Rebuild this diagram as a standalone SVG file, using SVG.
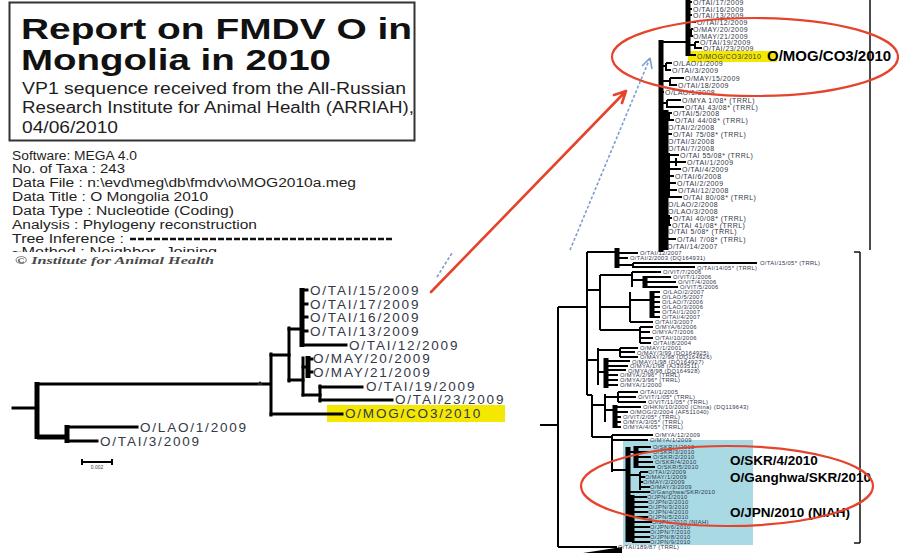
<svg xmlns="http://www.w3.org/2000/svg" width="899" height="553" viewBox="0 0 899 553">
<defs>
<style>
text{font-family:"Liberation Sans",Arial,sans-serif}
.title{font-size:29px;font-weight:bold;fill:#111}
.sub{font-size:16px;fill:#1e1e22}
.info{font-size:12.5px;fill:#1e1e22}
.iah{font-family:"Liberation Serif","Times New Roman",serif;font-style:italic;font-weight:bold;font-size:10.5px;fill:#4a4a4a}
.br{fill:none;stroke:#000;stroke-width:3;stroke-linecap:square}
.thick{fill:none;stroke:#000;stroke-width:5}
.thin{fill:none;stroke:#000;stroke-width:2}
.lbl{font-size:13.5px;letter-spacing:1.8px;fill:#343848}
.ul{font-size:7px;letter-spacing:0.45px;fill:#343848}
.ll{font-size:5.8px;letter-spacing:0.35px;fill:#30344c}
.big{font-weight:bold;fill:#000}
.ell{fill:none;stroke:#e5432b;stroke-width:2.2}
.red{fill:none;stroke:#e5432b;stroke-width:2.6;stroke-linecap:round}
.blue{fill:none;stroke:#7d9fcc;stroke-width:1.6;stroke-dasharray:3 2}
</style>
<clipPath id="cut"><rect x="0" y="243" width="420" height="9"/></clipPath>
</defs>
<rect width="899" height="553" fill="#fff"/>

<g id="title-box">
<rect x="9.5" y="2.5" width="405" height="138" fill="#fff" stroke="#333" stroke-width="2"/>
<text class="title" x="21" y="39" textLength="391" lengthAdjust="spacingAndGlyphs">Report on FMDV O in</text>
<text class="title" x="21" y="70" textLength="310" lengthAdjust="spacingAndGlyphs">Mongolia in 2010</text>
<text class="sub" x="22" y="94" textLength="384" lengthAdjust="spacingAndGlyphs">VP1 sequence received from the All-Russian</text>
<text class="sub" x="22" y="113" textLength="392" lengthAdjust="spacingAndGlyphs">Research Institute for Animal Health (ARRIAH),</text>
<text class="sub" x="22" y="133" textLength="96" lengthAdjust="spacingAndGlyphs">04/06/2010</text>
</g>

<g id="analysis-info">
<text class="info" x="12" y="160" textLength="125" lengthAdjust="spacingAndGlyphs">Software: MEGA 4.0</text>
<text class="info" x="12" y="173" textLength="113" lengthAdjust="spacingAndGlyphs">No. of Taxa : 243</text>
<text class="info" x="12" y="187" textLength="344" lengthAdjust="spacingAndGlyphs">Data File : n:\evd\meg\db\fmdv\o\MOG2010a.meg</text>
<text class="info" x="12" y="201" textLength="196" lengthAdjust="spacingAndGlyphs">Data Title : O Mongolia 2010</text>
<text class="info" x="12" y="215" textLength="222" lengthAdjust="spacingAndGlyphs">Data Type : Nucleotide (Coding)</text>
<text class="info" x="12" y="229" textLength="245" lengthAdjust="spacingAndGlyphs">Analysis : Phylogeny reconstruction</text>
<text class="info" x="12" y="243" textLength="112" lengthAdjust="spacingAndGlyphs">Tree Inference :</text>
<line x1="130" y1="239" x2="393" y2="239" stroke="#111" stroke-width="2.5" stroke-dasharray="6 2"/>
<g clip-path="url(#cut)"><text class="info" x="12" y="256" textLength="205" lengthAdjust="spacingAndGlyphs">~Method : Neighbor- Joining</text></g>
<text class="iah" x="15" y="264" textLength="199" lengthAdjust="spacingAndGlyphs">© Institute for Animal Health</text>
</g>

<g id="left-tree">
<rect x="327" y="405" width="178" height="17" fill="#f4e800"/>
<path class="br" d="M13,408H36M37,384H270M67,427H137M67,441H97M271,414H342M271,355H289M289,329H302M302,345H346M289,380H303M303,367H308M303,395H320M320,387H362M320,400H392M302,290H307M302,304H307M302,317H307M302,331H307M308,359H312M308,372H312"/>
<path class="br" d="M271,354V415M289,328V381M303,358V395M320,386V401"/>
<path class="thick" d="M37,382V439M37,437H67M67,425V443M302,288V347M308,356V378"/>
<path d="M257,385l3,-4l3,4z" fill="#222"/>
<text class="lbl" x="310" y="295">O/TAI/15/2009</text>
<text class="lbl" x="310" y="308.5">O/TAI/17/2009</text>
<text class="lbl" x="310" y="322">O/TAI/16/2009</text>
<text class="lbl" x="310" y="336">O/TAI/13/2009</text>
<text class="lbl" x="349" y="349.5">O/TAI/12/2009</text>
<text class="lbl" x="313" y="363">O/MAY/20/2009</text>
<text class="lbl" x="313" y="376.5">O/MAY/21/2009</text>
<text class="lbl" x="366" y="390.5">O/TAI/19/2009</text>
<text class="lbl" x="395" y="404">O/TAI/23/2009</text>
<text class="lbl" x="345" y="418">O/MOG/CO3/2010</text>
<text class="lbl" x="140" y="431.5">O/LAO/1/2009</text>
<text class="lbl" x="100" y="445.5">O/TAI/3/2009</text>
<path class="thin" d="M82,462H112M82,459V465M112,459V465" stroke-width="1.2"/>
<text x="97" y="469" font-size="5" text-anchor="middle" fill="#444">0.002</text>
</g>

<g id="upper-tree">
<line x1="870" y1="0" x2="870" y2="250" stroke="#111" stroke-width="1.5"/>
<rect x="688" y="51" width="89" height="11" fill="#f4e800"/>
<path class="thick" d="M688,0V56M661,40V253M666,110V250" stroke-width="4"/>
<path class="thin" d="M688,2H692M688,9H692M688,15H692M688,22H696M688,33H691M691,29V37M691,29H693M691,36H693M688,45H695M695,42V49M695,42H699M695,48H702M688,55H696M661,42H688M661,66H666M666,63V71M666,63H672M666,70H671M661,81H670M670,78V86M670,78H684M670,85H677M661,92H664M661,103H667M667,100V108M667,100H681M667,107H684M666,113H672M666,117H669M669,113V121M669,120H674M666,127H667M666,134H672M666,141H667M666,148H667M666,176H669M669,153V198M669,155H679M669,162H686M676,158V166M669,169H681M669,176H674M669,183H676M669,190H677M669,197H682M666,204H667M666,211H667M666,218H669M669,215V226M669,218H672M669,225H671M666,231H667M666,239H676M666,246H666"/>
<g class="ul">
<text x="693" y="4.5">O/TAI/17/2009</text>
<text x="693" y="11.5">O/TAI/16/2009</text>
<text x="693" y="17.5">O/TAI/13/2009</text>
<text x="697" y="24.5">O/TAI/12/2009</text>
<text x="693" y="32">O/MAY/20/2009</text>
<text x="693" y="38.5">O/MAY/21/2009</text>
<text x="700" y="45">O/TAI/19/2009</text>
<text x="703" y="50.5">O/TAI/23/2009</text>
<text x="697" y="58.5">O/MOG/CO3/2010</text>
<text x="673" y="65.5">O/LAO/1/2009</text>
<text x="672" y="72.5">O/TAI/3/2009</text>
<text x="685" y="80.5">O/MAY/15/2009</text>
<text x="678" y="87.5">O/TAI/18/2009</text>
<text x="665" y="94.5">O/LAO/1/2008</text>
<text x="682" y="102.5">O/MYA 1/08* (TRRL)</text>
<text x="685" y="109.5">O/TAI 43/08* (TRRL)</text>
<text x="673" y="115.5">O/TAI/5/2008</text>
<text x="675" y="122.5">O/TAI 44/08* (TRRL)</text>
<text x="668" y="129.5">O/TAI/2/2008</text>
<text x="673" y="136.5">O/TAI 75/08* (TRRL)</text>
<text x="668" y="143.5">O/TAI/3/2008</text>
<text x="668" y="150.5">O/TAI/7/2008</text>
<text x="680" y="157.5">O/TAI 55/08* (TRRL)</text>
<text x="687" y="164.5">O/TAI/1/2009</text>
<text x="682" y="171.5">O/TAI/4/2009</text>
<text x="675" y="178.5">O/TAI/6/2008</text>
<text x="677" y="185.5">O/TAI/2/2009</text>
<text x="678" y="192.5">O/TAI/12/2008</text>
<text x="683" y="199.5">O/TAI 80/08* (TRRL)</text>
<text x="668" y="206.5">O/LAO/2/2008</text>
<text x="668" y="213.5">O/LAO/3/2008</text>
<text x="673" y="220.5">O/TAI 40/08* (TRRL)</text>
<text x="672" y="227.5">O/TAI 41/08* (TRRL)</text>
<text x="668" y="233.5">O/TAI 5/08* (TRRL)</text>
<text x="677" y="241.5">O/TAI 7/08* (TRRL)</text>
<text x="667" y="248.5">O/TAI/14/2007</text>
</g>
</g>

<g id="lower-tree">
<rect x="545" y="252" width="354" height="301" fill="#fff"/>
<rect x="623" y="440" width="130" height="105" fill="#a9d9e3"/>
<path d="M860,252V543M854,252H860M854,543H860" fill="none" stroke="#111" stroke-width="1.5"/>
<path class="thin" d="M540,425H558M558,307V547M558,307H587M558,547H617M587,252V395M587,252H617M617,253H638M617,258H628M617,265H633M633,263V268M633,263H757M633,267H695M587,290H600M600,275V330M600,275H632M632,272V287M632,272H661M632,280H645M645,277H671M645,282H676M645,287H678M600,307H630M630,292V322M630,300H652M652,292H660M652,297H660M652,302H660M652,307H660M652,312H660M652,317H660M630,322H653M600,330H640M640,327V343M640,327H653M640,332H650M640,338H653M640,343H651M587,360H598M598,348V385M598,350H620M620,348V357M620,348H638M620,352H635M620,357H638M598,372H606M606,361H630M606,366H628M606,370H626M606,375H618M606,380H618M606,385H618M587,395H592M592,395V437M592,405H605M605,394V422M605,397H618M618,392V402M618,392H638M618,397H636M618,402H646M605,410H615M615,407H641M615,412H628M615,417H621M615,422H621M615,427H621M592,437H612M612,435V472M612,435H653M612,440H648M612,470H628M628,452H636M636,447H651M636,452H651M636,457H651M636,462H653M636,467H655M628,475H640M640,472H648M640,477H645M640,482H643M640,487H650M640,490V472M628,492H650M628,497H647M632,502H648M632,507H648M632,512H648M632,517H648M632,522H652M632,527H650M632,532H650M632,537H650M632,542H650"/>
<path class="thick" d="M617,248V268M645,276V288M652,291V318M606,358V388M615,405V428M628,447V542M636,446V468M632,495V542" stroke-width="4"/>
<path d="M583,553L622,547L622,553Z" fill="#000"/>
<g class="ll">
<text x="640" y="255">O/TAI/12/2007</text>
<text x="630" y="260">O/TAI/2/2003 (DQ164931)</text>
<text x="760" y="265">O/TAI/15/05* (TRRL)</text>
<text x="697" y="269.5">O/TAI/14/05* (TRRL)</text>
<text x="663" y="274">O/VIT/7/2006</text>
<text x="673" y="279">O/VIT/1/2006</text>
<text x="678" y="284">O/VIT/4/2006</text>
<text x="680" y="289">O/VIT/5/2006</text>
<text x="663" y="294">O/LAO/2/2007</text>
<text x="662" y="299">O/LAO/5/2007</text>
<text x="662" y="304">O/LAO/7/2006</text>
<text x="662" y="309">O/LAO/3/2006</text>
<text x="662" y="314">O/TAI/1/2007</text>
<text x="662" y="319">O/TAI/4/2007</text>
<text x="655" y="324">O/TAI/3/2007</text>
<text x="655" y="329">O/MYA/6/2006</text>
<text x="652" y="334">O/MYA/7/2006</text>
<text x="655" y="340">O/TAI/10/2006</text>
<text x="653" y="345">O/TAI/8/2004</text>
<text x="640" y="350">O/MAY/1/2001</text>
<text x="637" y="354.5">O/MAY/3/99 (DQ164925)</text>
<text x="640" y="359">O/MAY/2/98 (DQ164926)</text>
<text x="632" y="363.5">O/MAY/1/98 (DQ164927)</text>
<text x="630" y="368">O/MYA/1/98 (AJ303511)</text>
<text x="628" y="372.5">O/MYA/8/98 (DQ164928)</text>
<text x="620" y="377">O/MYA/2/96* (TRRL)</text>
<text x="620" y="382">O/MYA/3/96* (TRRL)</text>
<text x="620" y="387">O/MYA/1/2000</text>
<text x="640" y="394">O/TAI/1/2005</text>
<text x="638" y="399">O/VIT/1/05* (TRRL)</text>
<text x="648" y="404">O/VIT/11/05* (TRRL)</text>
<text x="643" y="409">O/HKN/10/2000 (China) (DQ119643)</text>
<text x="630" y="414">O/MOG/2/2004 (AF511040)</text>
<text x="623" y="419">O/VIT/2/05* (TRRL)</text>
<text x="623" y="424">O/MYA/3/05* (TRRL)</text>
<text x="623" y="429">O/MYA/4/05* (TRRL)</text>
<text x="655" y="437">O/MYA/12/2009</text>
<text x="650" y="442">O/MYA/1/2009</text>
<text x="653" y="449">O/SKR/1/2010</text>
<text x="653" y="454">O/SKR/3/2010</text>
<text x="653" y="459">O/SKR/2/2010</text>
<text x="655" y="464">O/SKR/4/2010</text>
<text x="657" y="469">O/SKR/5/2010</text>
<text x="648" y="474">O/TAI/2/2009</text>
<text x="645" y="479">O/MAY/1/2009</text>
<text x="643" y="484">O/MAY/2/2009</text>
<text x="650" y="489">O/MAY/3/2009</text>
<text x="650" y="494">O/Ganghwa/SKR/2010</text>
<text x="647" y="499">O/JPN/1/2010</text>
<text x="648" y="504">O/JPN/2/2010</text>
<text x="648" y="509">O/JPN/3/2010</text>
<text x="648" y="514">O/JPN/4/2010</text>
<text x="648" y="519">O/JPN/5/2010</text>
<text x="652" y="524">O/JPN/2010 (NIAH)</text>
<text x="650" y="529">O/JPN/6/2010</text>
<text x="650" y="534">O/JPN/7/2010</text>
<text x="650" y="539">O/JPN/8/2010</text>
<text x="650" y="544">O/JPN/9/2010</text>
<text x="618" y="549">O/TAI/189/87 (TRRL)</text>
</g>
</g>

<g id="callouts">
<text class="big" x="767" y="61" font-size="15">O/MOG/CO3/2010</text>
<text class="big" x="730" y="465" font-size="13.5">O/SKR/4/2010</text>
<text class="big" x="730" y="482" font-size="13.5">O/Ganghwa/SKR/2010</text>
<text class="big" x="730" y="517" font-size="13.5">O/JPN/2010 (NIAH)</text>
<ellipse class="ell" cx="755" cy="57" rx="143" ry="39"/>
<ellipse class="ell" cx="727" cy="486" rx="146" ry="40"/>
</g>

<g id="connectors">
<path class="red" d="M431,292L626,91M626,91L614,95M626,91L622,103"/>
<path class="blue" d="M437,277L452,253M570,250L650,58"/>
<path d="M650,58L642,66M650,58L652,69" fill="none" stroke="#7d9fcc" stroke-width="1.6"/>
</g>
</svg>
